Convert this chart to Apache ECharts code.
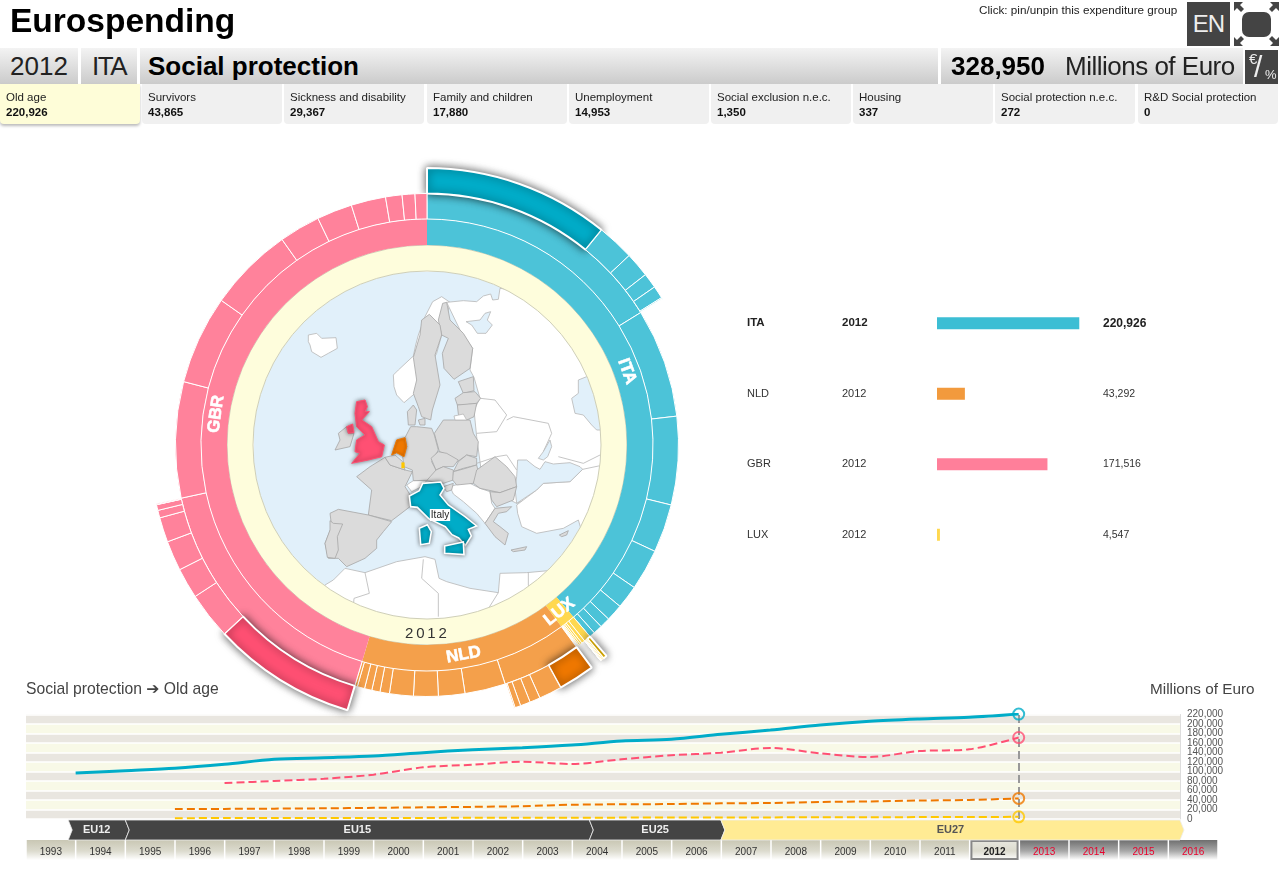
<!DOCTYPE html>
<html lang="en">
<head>
<meta charset="UTF-8">
<title>Eurospending</title>
<style>
    html, body { margin: 0; padding: 0; background: #fff; overflow: hidden; }
    body { font-family: "Liberation Sans", "DejaVu Sans", sans-serif; color: #111; }
    #main { position: absolute; left: 0; top: 0; width: 1280px; height: 886px; }
    .abs { position: absolute; white-space: nowrap; }
    .bar { position: absolute; top: 48px; height: 36px; line-height: 36px; background: linear-gradient(#f3f3f3, #cbcbcb); font-size: 26px; }
    .card { position: absolute; top: 84px; height: 40px; width: 140px; background: #f0f0f0; border-radius: 0 0 4px 4px; font-size: 11.5px; line-height: 15px; color: #222; }
    .card div { margin: 6px 0 0 6px; }
    .card b { color: #111; }
    .card.on { background: #fefdd8; box-shadow: 0 2px 3px #bbb; }
    .dark { position: absolute; background: #444; color: #eee; }
</style>
</head>
<body>
<div id="main"></div>
<div class="abs" style="left:10px;top:1px;font-size:33.5px;line-height:40px;font-weight:bold;color:#000">Eurospending</div>
<div class="abs" style="left:979px;top:3px;font-size:11.7px;line-height:14px;color:#222">Click: pin/unpin this expenditure group</div>
<div class="dark" style="left:1187px;top:2px;width:43px;height:44px;line-height:44px;text-align:center;font-size:24px;letter-spacing:-1px">EN</div>
<svg class="abs" style="left:1233px;top:1px" width="47" height="46" viewBox="0 0 47 46">
    <rect x="9" y="11" width="29" height="25" rx="7" fill="#444"/>
    <path d="M1 1h9l-3 3 4 4-3 3-4-4-3 3zM46 1h-9l3 3-4 4 3 3 4-4 3 3zM1 45h9l-3-3 4-4-3-3-4 4-3-3zM46 45h-9l3-3-4-4 3-3 4 4 3-3z" fill="#444"/>
</svg>
<div class="bar" style="left:0;width:78px;text-align:center;color:#222">2012</div>
<div class="bar" style="left:81px;width:56px;text-align:center;color:#222;letter-spacing:-1.5px">ITA</div>
<div class="bar" style="left:140px;width:798px"><b style="margin-left:8px;color:#000;font-size:26px">Social protection</b></div>
<div class="bar" style="left:941px;width:302px">
    <b class="abs" style="left:10px;color:#000;font-size:26px">328,950</b>
    <span class="abs" style="left:124px;color:#222;letter-spacing:-0.5px">Millions of Euro</span>
</div>
<div class="dark" style="left:1245px;top:50px;width:33px;height:34px;overflow:hidden">
    <span class="abs" style="left:4px;top:1px;font-size:15px;line-height:16px">€</span>
    <span class="abs" style="left:9px;top:0;font-size:30px;line-height:34px">/</span>
    <span class="abs" style="left:20px;top:17px;font-size:13px;line-height:15px">%</span>
</div>
<div class="abs" style="left:405px;top:624px;font-size:15px;line-height:18px;letter-spacing:2.8px;color:#333;z-index:5">2012</div>
<div id="cards"></div>

<script src="https://cdn.jsdelivr.net/npm/echarts@6/dist/echarts.min.js"></script>
<script>
    var cardNames = ['Old age', 'Survivors', 'Sickness and disability', 'Family and children', 'Unemployment', 'Social exclusion n.e.c.', 'Housing', 'Social protection n.e.c.', 'R&D Social protection'];
    var itaSocial = [220926, 43865, 29367, 17880, 14953, 1350, 337, 272, 0];
    var cardLeft = [0, 142, 284, 427, 569, 711, 853, 995, 1138];

    var countries = ['ITA', 'LUX', 'NLD', 'GBR'];
    var countryColors = ['#4cc3d8', '#ffd84f', '#f4a04b', '#ff829b'];
    var selectedColors = ['#00acc8', '#ffc800', '#ef7800', '#ff5073'];

    // spending by function, social protection first
    var itaFunctions = [328950, 142400, 115300, 63300, 53700, 30500, 22000, 13600, 11900, 7300];
    var luxFunctions = [8900, 4500, 2600, 2100, 1400, 900, 700, 500, 300, 100];
    var nldFunctions = [104000, 53100, 34500, 32200, 31100, 12400, 10700, 9600, 9600, 3400];
    var gbrFunctions = [345300, 151500, 115900, 111300, 53700, 46300, 45200, 21500, 16700, 15500];

    var luxSocial = [4547, 1500, 1200, 1000, 300, 200, 100, 53, 0];
    var nldSocial = [43292, 27100, 12400, 11900, 6800, 1500, 500, 200, 100];
    var gbrSocial = [171516, 55400, 36200, 35600, 29400, 9000, 6800, 384, 1000];

    var years = ['1993', '1994', '1995', '1996', '1997', '1998', '1999', '2000', '2001', '2002', '2003', '2004', '2005', '2006', '2007', '2008', '2009', '2010', '2011', '2012', '2013', '2014', '2015', '2016'];
    var itaOldAge = [96800, 101700, 106700, 115100, 125700, 129000, 132600, 139600, 145900, 150100, 155800, 164200, 167800, 178300, 187300, 197900, 205700, 210500, 214100, 220926];
    var gbrOldAge = [75800, 80000, 84800, 93300, 108800, 114300, 120600, 115800, 125700, 134100, 139600, 149500, 138300, 130500, 143100, 146700, 171516];
    var nldOldAge = [21000, 21300, 21800, 22500, 23500, 24600, 25500, 27000, 30000, 31000, 31500, 33000, 33700, 35800, 37000, 38900, 40000, 43292];
    var luxOldAge = [1800, 1900, 2000, 2100, 2200, 2300, 2500, 2600, 2800, 2900, 3000, 3200, 3400, 3600, 3800, 4000, 4300, 4547];

    // the tick labels are tighter than ECharts accepts on one axis, so two axes take turns
    var ticksEven = [0, 40000, 80000, 120000, 160000, 200000];
    var ticksOdd = [20000, 60000, 100000, 140000, 180000, 220000];

    var eraNames = ['EU12', 'EU15', 'EU25', 'EU27'];
    var eraStart = [1992.85, 1994, 2003.35, 2006];
    var eraEnd = [1994, 2003.35, 2006, 2015.25];

    var rowNames = ['ITA', 'NLD', 'GBR', 'LUX'];
    var rowValues = [220926, 43292, 171516, 4547];
    var rowColors = ['#3cbed4', '#f29a3d', '#ff7f9a', '#ffd84f'];

    var cardsHtml = '';
    for (var c = 0; c < cardNames.length; c++) {
        cardsHtml += '<div class="card' + (c == 0 ? ' on' : '') + '" style="left:' + cardLeft[c] + 'px"><div>' +
            cardNames[c].replace('&', '&amp;') + '<br><b>' + itaSocial[c].toLocaleString('en-US') + '</b></div></div>';
    }
    document.getElementById('cards').innerHTML = cardsHtml;

    // outline, viewBox is the map circle
    var europeSvg = '<svg xmlns="http://www.w3.org/2000/svg" viewBox="12 6 1038 1038">' +
        '<circle cx="531" cy="525" r="522" fill="#e1f0fa"/>' +
        '<g fill="#ffffff" stroke="#b9b9b9" stroke-width="2.5">' +
        '<polygon points="175,195 200,190 215,205 258,203 262,235 235,250 213,262 185,245 180,225 175,215"/>' +
        '<polygon points="462,398 440,375 432,350 430,315 445,300 490,258 497,225 505,195 525,140 548,95 575,80 600,97 590,140 560,250 495,370"/>' +
        '<polygon points="590,97 640,92 680,95 700,78 722,72 728,90 745,88 750,55 1000,90 1120,400 1100,600 1000,620 800,700 780,690 700,650 680,500 672,420 690,385 672,322 660,300 668,235 630,180"/>' +
        '<polygon points="803,730 800,705 860,660 880,640 960,635 998,598 1060,585 1100,720 1000,800 985,750 940,775 860,790 815,770"/>' +
        '<polygon points="600,650 650,635 690,655 720,665 725,700 735,715 705,760 680,730 640,695 610,672"/>' +
        '<polygon points="470,645 490,632 530,632 515,650 485,665"/>' +
        '<polygon points="225,945 250,930 285,895 345,908 440,875 525,860 555,868 567,925 590,935 660,955 745,968 750,910 830,908 895,902 960,960 700,1120 360,1120 200,1000"/>' +
        '</g>' +
        '<g fill="none" stroke="#b9b9b9" stroke-width="2.5">' +
        '<polyline points="345,908 358,970 312,985 310,1010"/>' +
        '<polyline points="520,868 515,925 565,970 565,1040"/>' +
        '<polyline points="835,908 835,945 850,1010"/>' +
        '<polyline points="745,968 700,1040"/>' +
        '<polyline points="680,490 740,485 770,435 735,390 692,385"/>' +
        '<polyline points="680,580 740,560 770,555 800,600"/>' +
        '<polyline points="770,450 790,440 895,460 905,490 880,545"/>' +
        '<polyline points="925,560 1000,580 1050,555"/>' +
        '</g>' +
        '<g fill="#e1f0fa" stroke="#b9b9b9" stroke-width="2.5">' +
        '<polygon points="648,155 690,150 705,130 722,125 712,150 727,165 708,190 682,190 665,165"/>' +
        '<polygon points="803,570 830,570 855,590 870,598 885,575 910,582 960,578 990,590 998,598 960,635 880,640 860,660 800,700 795,655 800,620"/>' +
        '<polygon points="865,565 880,545 900,510 905,530 893,560 880,570"/>' +
        '<polygon points="965,385 985,370 985,330 1010,320 1080,330 1090,480 1040,480 1025,465 1000,435 975,430"/>' +
        '</g>' +
        '<g fill="#dbdbdb" stroke="#a8a8a8" stroke-width="2.5">' +
        '<polygon points="578,100 590,97 600,150 640,190 668,235 660,295 612,328 582,295 577,250 595,205 575,195 565,150"/>' +
        '<polygon points="538,133 570,165 575,195 555,255 570,345 547,420 542,450 515,440 505,410 490,370 500,330 490,262 510,195 515,150"/>' +
        '<polygon points="625,335 670,320 672,362 640,370"/>' +
        '<polygon points="615,385 640,368 675,365 692,385 680,400 640,405 622,405"/>' +
        '<polygon points="622,405 680,400 672,440 640,455 625,432"/>' +
        '<polygon points="475,465 472,425 490,405 500,420 495,465"/>' +
        '<polygon points="505,450 525,445 525,465 510,465"/>' +
        '<polygon points="553,490 580,450 660,450 670,490 685,515 680,560 650,555 622,575 590,553 568,545"/>' +
        '<polygon points="482,470 500,470 545,475 553,495 565,540 545,575 558,600 560,630 490,632 487,600 462,590 458,560 470,530 465,503"/>' +
        '<polygon points="543,565 565,545 590,550 625,570 610,590 580,590 558,600"/>' +
        '<polygon points="625,575 650,555 680,565 680,585 640,595 610,605"/>' +
        '<polygon points="530,632 558,600 580,590 610,600 610,630 580,640"/>' +
        '<polygon points="610,605 640,597 680,585 685,605 670,640 620,645 608,630"/>' +
        '<polygon points="580,650 610,640 605,660 590,665"/>' +
        '<polygon points="680,600 735,560 770,590 795,620 800,650 750,668 690,655 670,640"/>' +
        '<polygon points="720,665 750,668 800,650 790,690 740,710 725,690"/>' +
        '<polygon points="705,760 735,715 785,710 770,725 745,730 730,755 750,770 775,790 765,825 735,800"/>' +
        '<polygon points="783,840 830,830 825,840 790,845"/>' +
        '<polygon points="928,795 955,782 950,795 935,800"/>' +
        '<polygon points="320,620 360,590 405,562 420,585 465,600 487,605 465,650 490,690 480,710 425,752 355,735 365,660"/>' +
        '<polygon points="405,562 435,555 458,575 465,600 420,585"/>' +
        '<polygon points="240,730 265,718 355,735 425,755 400,785 380,810 380,835 345,865 290,890 265,865 235,865 225,820 245,770"/>' +
        '<polygon points="240,752 250,760 278,762 262,800 265,840 255,865 232,862 225,820 240,780"/>' +
        '<polygon points="265,490 290,470 295,490 312,490 300,530 255,540 270,510"/>' +
        '</g>' +
        '<polygon fill="#ffffff" stroke="#b9b9b9" stroke-width="2.5" points="612,438 640,432 650,450 615,450"/>' +
        '<polygon name="Netherlands" points="425,555 440,510 465,503 470,530 462,560 440,548"/>' +
        '<polygon name="Luxembourg" points="455,578 463,578 463,594 455,594"/>' +
        '<polygon name="United Kingdom" points="320,395 345,390 352,410 345,425 358,425 335,450 365,470 385,515 403,525 395,560 355,570 305,580 330,550 315,545 320,510 345,495 320,470 315,430"/>' +
        '<polygon name="United Kingdom" points="290,470 308,462 312,488 295,490"/>' +
        '<polygon name="Italy" points="478,678 508,662 518,640 572,636 582,655 570,675 595,705 645,740 680,768 655,778 664,798 646,826 626,804 606,794 586,770 536,746 502,712 482,710"/>' +
        '<polygon name="Italy" points="584,828 640,816 642,854 584,850"/>' +
        '<polygon name="Italy" points="508,775 532,764 544,785 538,820 512,824"/>' +
        '</svg>';
    echarts.registerMap('europe', { svg: europeSvg });

    function fmt(v) {
        return Number(v).toLocaleString('en-US');
    }

    function countryNode(index, functions, social) {
        var kids = [];
        for (var i = 0; i < functions.length; i++) {
            var node = { name: 'f' + i, value: functions[i], itemStyle: { color: countryColors[index] } };
            if (i == 0) {
                node.children = [];
                for (var j = 0; j < social.length; j++) {
                    var leaf = { name: cardNames[j], value: social[j], itemStyle: { color: countryColors[index] } };
                    if (j == 0) {
                        leaf.itemStyle = {
                            color: selectedColors[index],
                            borderColor: '#fff',
                            borderWidth: 2,
                            shadowBlur: 9,
                            shadowColor: 'rgba(0,0,0,0.65)'
                        };
                    }
                    node.children.push(leaf);
                }
            }
            kids.push(node);
        }
        return { name: countries[index], itemStyle: { color: countryColors[index] }, children: kids };
    }

    var sunData = [
        countryNode(0, itaFunctions, itaSocial),
        countryNode(1, luxFunctions, luxSocial),
        countryNode(2, nldFunctions, nldSocial),
        countryNode(3, gbrFunctions, gbrSocial)
    ];

    function pairs(startYear, values) {
        var res = [];
        for (var i = 0; i < values.length; i++) {
            res.push([startYear + i, values[i]]);
        }
        return res;
    }

    function stripColor(year) {
        var top = '#c9c7b4';
        if (year > 2012) top = '#6e6e6e';
        if (year == 2012) top = '#e8e8e0';
        return new echarts.graphic.LinearGradient(0, 0, 0, 1, [{ offset: 0, color: top }, { offset: 0.55, color: year > 2012 ? '#a8a8a8' : '#dcdbce' }, { offset: 1, color: '#fff' }]);
    }

    var stripData = years.map(function (y) {
        var n = Number(y);
        var item = { value: 1, itemStyle: { color: stripColor(n) } };
        if (n > 2012) item.label = { color: '#e8002c' };
        if (n == 2012) {
            item.itemStyle.borderColor = '#888';
            item.itemStyle.borderWidth = 2;
            item.label = { fontWeight: 'bold', color: '#222' };
        }
        return item;
    });

    function eraShape(params, api) {
        var rect = params.coordSys;
        var x0 = api.coord([api.value(0), 0])[0];
        var x1 = api.coord([api.value(1), 0])[0];
        var top = rect.y, bot = rect.y + rect.height, mid = rect.y + rect.height / 2;
        var gold = params.dataIndex == 3;
        return {
            type: 'group',
            children: [{
                type: 'polygon',
                shape: { points: [[x0, top], [x1, top], [x1 + 4, mid], [x1, bot], [x0, bot], [x0 + 4, mid]] },
                style: { fill: gold ? '#ffeb94' : '#444', stroke: '#eee', lineWidth: 0.8 }
            }, {
                type: 'text',
                style: {
                    x: (x0 + x1) / 2, y: mid, text: eraNames[params.dataIndex],
                    textAlign: 'center', textVerticalAlign: 'middle',
                    font: 'bold 11px "Liberation Sans"', fill: gold ? '#555' : '#eee'
                }
            }]
        };
    }

    var lineX = { min: 1992, max: 2015.25 };
    var option = {
        animation: false,
        textStyle: { fontFamily: '"Liberation Sans", "DejaVu Sans", sans-serif' },
        title: [
            { text: 'Social protection ➔ Old age', left: 26, top: 682, padding: 0, textStyle: { fontSize: 15.7, fontWeight: 'normal', color: '#444', fontFamily: '"Liberation Sans", "DejaVu Sans"' } },
            { text: 'Millions of Euro', left: 1150, top: 682, padding: 0, textStyle: { fontSize: 15.3, fontWeight: 'normal', color: '#444' } }
        ],
        geo: {
            map: 'europe',
            roam: false,
            silent: true,
            layoutCenter: [427, 445],
            layoutSize: 346,
            itemStyle: { areaColor: '#dbdbdb', borderColor: '#a8a8a8', borderWidth: 1 },
            regions: [
                { name: 'Italy', itemStyle: { areaColor: '#00acc8', borderColor: '#fff', borderWidth: 1.6, shadowBlur: 4, shadowColor: 'rgba(0,0,0,0.5)' } },
                { name: 'United Kingdom', itemStyle: { areaColor: '#ff5073', borderColor: '#ff5073', borderWidth: 1, shadowBlur: 4, shadowColor: 'rgba(0,0,0,0.5)' } },
                { name: 'Netherlands', itemStyle: { areaColor: '#ef7800', borderColor: '#ef7800', borderWidth: 1, shadowBlur: 3, shadowColor: 'rgba(0,0,0,0.4)' } },
                { name: 'Luxembourg', itemStyle: { areaColor: '#ffc800', borderColor: '#ffc800', borderWidth: 0.5 } }
            ]
        },
        grid: [
            { left: 26, top: 714.5, width: 1154, height: 104.5 },
            { left: 937, top: 288, width: 161, height: 282 },
            { left: 26, top: 840, width: 1192, height: 20 },
            { left: 26, top: 820, width: 1154, height: 20 }
        ],
        xAxis: [
            { type: 'value', gridIndex: 0, min: lineX.min, max: lineX.max, show: false },
            { type: 'value', gridIndex: 1, min: 0, max: 250000, show: false },
            { type: 'category', gridIndex: 2, data: years, show: false },
            { type: 'value', gridIndex: 3, min: lineX.min, max: lineX.max, show: false }
        ],
        yAxis: [
            {
                type: 'value', gridIndex: 0, position: 'right', min: 0, max: 220000, interval: 20000,
                axisLine: { show: true, lineStyle: { color: '#ddd' } },
                axisTick: { show: false },
                axisLabel: { fontSize: 10, color: '#555', margin: 7, formatter: fmt, customValues: ticksEven },
                splitArea: { show: true, areaStyle: { color: ['#e9e6e0', '#f8f9e7'] } },
                splitLine: { show: true, lineStyle: { color: '#fff', width: 1.5 } }
            },
            {
                type: 'category', gridIndex: 1, inverse: true, data: rowNames,
                axisLine: { show: false }, axisTick: { show: false },
                axisLabel: {
                    margin: 190, align: 'left',
                    formatter: function (v, i) {
                        return i == 0 ? '{A|' + v + '}{Y|2012}' : '{a|' + v + '}{y|2012}';
                    },
                    rich: {
                        a: { width: 95, fontSize: 11, color: '#333' },
                        y: { width: 60, fontSize: 11, color: '#333' },
                        A: { width: 95, fontSize: 11.5, color: '#222', fontWeight: 'bold' },
                        Y: { width: 60, fontSize: 11.5, color: '#222', fontWeight: 'bold' }
                    }
                }
            },
            {
                type: 'category', gridIndex: 1, inverse: true, position: 'right', data: rowValues.map(fmt),
                axisLine: { show: false }, axisTick: { show: false },
                axisLabel: {
                    margin: 5, align: 'left', fontSize: 10.5, color: '#333',
                    formatter: function (v, i) { return i == 0 ? '{B|' + v + '}' : v; },
                    rich: { B: { fontSize: 12, fontWeight: 'bold', color: '#222' } }
                }
            },
            { type: 'value', gridIndex: 2, min: 0, max: 1, show: false },
            { type: 'value', gridIndex: 3, min: 0, max: 1, show: false },
            {
                type: 'value', gridIndex: 0, position: 'right', min: 0, max: 220000, interval: 20000,
                axisLine: { show: false }, axisTick: { show: false }, splitLine: { show: false }, splitArea: { show: false },
                axisLabel: { fontSize: 10, color: '#555', margin: 7, formatter: fmt, customValues: ticksOdd }
            }
        ],
        series: [
            {
                type: 'pie', center: [427, 445], radius: [174, 200], silent: true, z: 3,
                label: { show: false }, labelLine: { show: false },
                data: [{ value: 1, itemStyle: { color: '#fefddc', borderColor: '#cfcfb8', borderWidth: 1 } }]
            },
            {
                type: 'sunburst', center: [427, 445], radius: [200, 277], sort: null, nodeClick: false, z: 4,
                startAngle: 90,
                emphasis: { focus: 'none' },
                data: sunData,
                levels: [
                    {},
                    { r0: 200, r: 226, itemStyle: { borderWidth: 0 }, label: { show: true, rotate: 'tangential', color: '#fff', fontSize: 17, fontWeight: 'bold', textBorderColor: '#fff', textBorderWidth: 0.6 } },
                    { r0: 226, r: 251.5, itemStyle: { borderColor: '#fff', borderWidth: 1 }, label: { show: false } },
                    { r0: 251.5, r: 277, itemStyle: { borderColor: '#fff', borderWidth: 1 }, label: { show: false } }
                ]
            },
            {
                type: 'bar', xAxisIndex: 1, yAxisIndex: 1, barWidth: 12, silent: true,
                data: rowValues.map(function (v, i) { return { value: v, itemStyle: { color: rowColors[i] } }; })
            },
            {
                type: 'line', xAxisIndex: 0, yAxisIndex: 0, smooth: 0.3, symbol: 'none', silent: true, z: 5,
                lineStyle: { color: '#00acc8', width: 3 },
                data: pairs(1993, itaOldAge),
                markLine: {
                    silent: true, symbol: 'none', label: { show: false },
                    lineStyle: { color: '#999', type: 'dashed', width: 2 },
                    data: [{ xAxis: 2012 }]
                }
            },
            {
                type: 'line', xAxisIndex: 0, yAxisIndex: 0, smooth: 0.3, symbol: 'none', silent: true, z: 5,
                lineStyle: { color: '#ff5073', width: 2, type: 'dashed' },
                data: pairs(1996, gbrOldAge)
            },
            {
                type: 'line', xAxisIndex: 0, yAxisIndex: 0, smooth: 0.3, symbol: 'none', silent: true, z: 5,
                lineStyle: { color: '#ef7800', width: 2, type: 'dashed' },
                data: pairs(1995, nldOldAge)
            },
            {
                type: 'line', xAxisIndex: 0, yAxisIndex: 0, smooth: 0.3, symbol: 'none', silent: true, z: 5,
                lineStyle: { color: '#ffc800', width: 2, type: 'dashed' },
                data: pairs(1995, luxOldAge)
            },
            {
                type: 'scatter', xAxisIndex: 0, yAxisIndex: 0, symbolSize: 11, silent: true, clip: false, z: 6,
                data: rowValues.map(function (v, i) {
                    return { value: [2012, v], itemStyle: { color: 'rgba(0,0,0,0)', borderColor: selectedColors[[0, 2, 3, 1][i]], borderWidth: 2 } };
                })
            },
            {
                type: 'custom', xAxisIndex: 3, yAxisIndex: 4, silent: true, clip: false, z: 6,
                renderItem: eraShape,
                data: eraNames.map(function (n, i) { return [eraStart[i], eraEnd[i]]; })
            },
            {
                type: 'bar', xAxisIndex: 2, yAxisIndex: 3, barCategoryGap: '3%', silent: true,
                label: {
                    show: true, position: 'inside', offset: [0, 2], fontSize: 10, color: '#333',
                    formatter: function (p) { return p.name; }
                },
                data: stripData
            }
        ],
        graphic: [{
            type: 'text', x: 440, y: 515, z: 100, silent: true,
            style: {
                text: 'Italy', textAlign: 'center', textVerticalAlign: 'middle', fontSize: 10, fill: '#222',
                backgroundColor: '#fff', padding: [1, 1]
            }
        }]
    };

    var myChart = echarts.init(document.getElementById('main'), null, { renderer: 'canvas' });
    myChart.setOption(option);
</script>
</body>
</html>
